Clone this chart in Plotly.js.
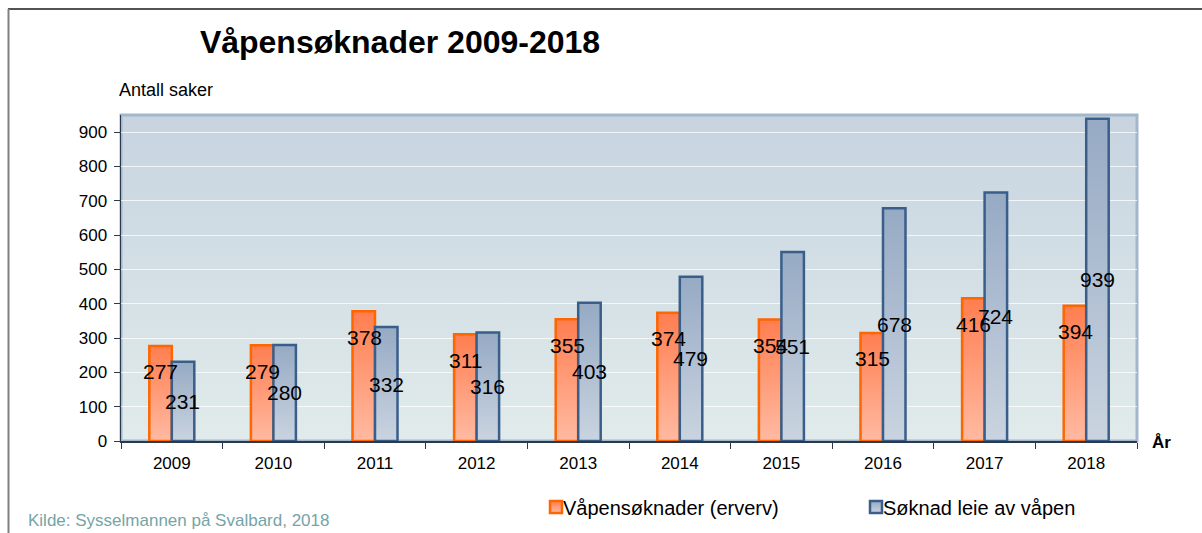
<!DOCTYPE html>
<html>
<head>
<meta charset="utf-8">
<script src="https://cdn.plot.ly/plotly-3.0.1.min.js"></script>
<style>
  html, body { margin: 0; padding: 0; background: #ffffff; }
  #chart { width: 1202px; height: 533px; }
</style>
</head>
<body>
<div id="chart"></div>
<script>
// ---- data ----
const years = ['2009', '2010', '2011', '2012', '2013', '2014', '2015', '2016', '2017', '2018'];
const erverv = [277, 279, 378, 311, 355, 374, 354, 315, 416, 394];
const leie = [231, 280, 332, 316, 403, 479, 551, 678, 724, 939];
const seriesNames = ['Våpensøknader (erverv)', 'Søknad leie av våpen'];
const yTicks = [0, 100, 200, 300, 400, 500, 600, 700, 800, 900];

// ---- layout geometry (pixels) ----
const W = 1202, H = 533;
const M = { l: 121, r: 65, t: 115, b: 92, autoexpand: false };
const PW = W - M.l - M.r, PH = H - M.t - M.b;
const px = x => (x - M.l) / PW;
const py = y => (H - M.b - y) / PH;

const FONT = 'Liberation Sans, Arial, sans-serif';

const data = [
  {
    type: 'bar', name: seriesNames[0], x: years, y: erverv,
    marker: { color: '#FF9A74', line: { color: '#FF6600', width: 2.5 } },
    hoverinfo: 'none'
  },
  {
    type: 'bar', name: seriesNames[1], x: years, y: leie,
    marker: { color: '#B0C0D4', line: { color: '#3A5E8A', width: 2.5 } },
    hoverinfo: 'none'
  }
];

const annotations = [];
years.forEach((yr, i) => {
  annotations.push({
    x: i, y: erverv[i], xref: 'x', yref: 'y', xshift: -11, yshift: -26,
    text: String(erverv[i]), showarrow: false, xanchor: 'center', yanchor: 'middle',
    font: { family: FONT, size: 21, color: '#000000' }
  });
  annotations.push({
    x: i, y: leie[i] / 2, xref: 'x', yref: 'y', xshift: 11,
    text: String(leie[i]), showarrow: false, xanchor: 'center', yanchor: 'middle',
    font: { family: FONT, size: 21, color: '#000000' }
  });
});
annotations.push(
  { text: 'Antall saker', xref: 'paper', yref: 'paper', x: px(117), y: py(90),
    xanchor: 'left', yanchor: 'middle', showarrow: false,
    font: { family: FONT, size: 18, color: '#000000' } },
  { text: '<b>År</b>', xref: 'paper', yref: 'paper', x: px(1150), y: py(442),
    xanchor: 'left', yanchor: 'middle', showarrow: false,
    font: { family: FONT, size: 17, color: '#000000' } },
  { text: 'Kilde: Sysselmannen på Svalbard, 2018', xref: 'paper', yref: 'paper', x: px(26), y: py(520),
    xanchor: 'left', yanchor: 'middle', showarrow: false,
    font: { family: FONT, size: 17, color: '#74A4A8' } }
);

const bgSvg = "<svg xmlns='http://www.w3.org/2000/svg' width='10' height='100' preserveAspectRatio='none'>" +
  "<defs><linearGradient id='g' x1='0' y1='0' x2='0' y2='1'>" +
  "<stop offset='0' stop-color='#C7D4E0'/><stop offset='1' stop-color='#E1EBEB'/></linearGradient></defs>" +
  "<rect width='10' height='100' fill='url(#g)'/></svg>";

const layout = {
  width: W, height: H,
  margin: M,
  paper_bgcolor: '#ffffff',
  plot_bgcolor: 'rgba(0,0,0,0)',
  font: { family: FONT, size: 17, color: '#000000' },
  title: {
    text: '<b>Våpensøknader 2009-2018</b>',
    font: { family: FONT, size: 32, color: '#000000' },
    xref: 'paper', x: px(400), xanchor: 'center',
    yref: 'container', y: 1 - 42 / H, yanchor: 'middle'
  },
  barmode: 'group',
  bargap: 0.557,
  bargroupgap: 0,
  showlegend: true,
  legend: {
    orientation: 'h', xref: 'paper', yref: 'paper',
    x: px(523), y: py(507), xanchor: 'left', yanchor: 'middle',
    font: { family: FONT, size: 20, color: '#000000' },
    entrywidth: 275, entrywidthmode: 'pixels',
    bgcolor: 'rgba(0,0,0,0)', traceorder: 'normal'
  },
  xaxis: {
    type: 'category',
    range: [-0.5, years.length - 0.5],
    showgrid: false,
    showline: true, linecolor: '#2A3A4C', linewidth: 1.5,
    ticks: 'outside', tickson: 'boundaries', ticklen: 6, tickcolor: '#2A3A4C', tickwidth: 1,
    tickfont: { family: FONT, size: 17, color: '#000000' },
    ticklabelstandoff: 6,
    tickangle: 0,
    zeroline: false, fixedrange: true
  },
  yaxis: {
    range: [0, 950],
    tickvals: yTicks, ticktext: yTicks.map(String),
    showgrid: true, gridcolor: 'rgba(255,255,255,0.75)', gridwidth: 1,
    showline: true, linecolor: '#2A3A4C', linewidth: 1.5,
    ticks: 'outside', ticklen: 6, tickcolor: '#2A3A4C', tickwidth: 1,
    tickfont: { family: FONT, size: 17, color: '#000000' },
    ticklabelstandoff: 3,
    zeroline: false, fixedrange: true
  },
  images: [{
    source: 'data:image/svg+xml;charset=utf-8,' + encodeURIComponent(bgSvg),
    xref: 'paper', yref: 'paper', x: 0, y: 1, sizex: 1, sizey: 1,
    xanchor: 'left', yanchor: 'top', sizing: 'stretch', layer: 'below'
  }],
  shapes: [
    { type: 'rect', xref: 'paper', yref: 'paper', x0: 0, x1: 1, y0: 0, y1: 1,
      line: { color: '#A3B6CC', width: 3 }, fillcolor: 'rgba(0,0,0,0)', layer: 'below' },
    { type: 'line', xref: 'paper', yref: 'paper', x0: px(8), x1: px(1210), y0: py(9), y1: py(9),
      line: { color: '#1A1A1A', width: 1.5 } },
    { type: 'line', xref: 'paper', yref: 'paper', x0: px(8.5), x1: px(8.5), y0: py(9), y1: py(540),
      line: { color: '#808080', width: 2 } }
  ],
  annotations: annotations
};

const gd = document.getElementById('chart');
Plotly.newPlot(gd, data, layout, { staticPlot: true, displayModeBar: false }).then(function () {
  const svg = gd.querySelector('svg.main-svg');
  const NS = 'http://www.w3.org/2000/svg';
  let defs = svg.querySelector('defs');
  if (!defs) { defs = document.createElementNS(NS, 'defs'); svg.insertBefore(defs, svg.firstChild); }
  function grad(id, top, bottom) {
    const lg = document.createElementNS(NS, 'linearGradient');
    lg.setAttribute('id', id);
    lg.setAttribute('x1', '0'); lg.setAttribute('y1', '0');
    lg.setAttribute('x2', '0'); lg.setAttribute('y2', '1');
    [[0, top], [1, bottom]].forEach(function (s) {
      const st = document.createElementNS(NS, 'stop');
      st.setAttribute('offset', s[0]);
      st.setAttribute('stop-color', s[1]);
      lg.appendChild(st);
    });
    defs.appendChild(lg);
  }
  grad('gradOrange', '#FF7E50', '#FFBAA2');
  grad('gradBlue', '#96AAC4', '#CAD4E0');
  const ids = ['gradOrange', 'gradBlue'];
  gd.querySelectorAll('.barlayer .trace').forEach(function (t, i) {
    t.querySelectorAll('path').forEach(function (p) { p.style.fill = 'url(#' + ids[i] + ')'; });
  });
  gd.querySelectorAll('.legend .traces').forEach(function (t, i) {
    t.querySelectorAll('.legendpoints').forEach(function (g) {
      const tr = g.getAttribute('transform') || '';
      g.setAttribute('transform', tr + ' translate(13,0)');
    });
    t.querySelectorAll('.legendpoints path').forEach(function (p) { p.style.fill = 'url(#' + ids[i] + ')'; });
  });
});
</script>
</body>
</html>
